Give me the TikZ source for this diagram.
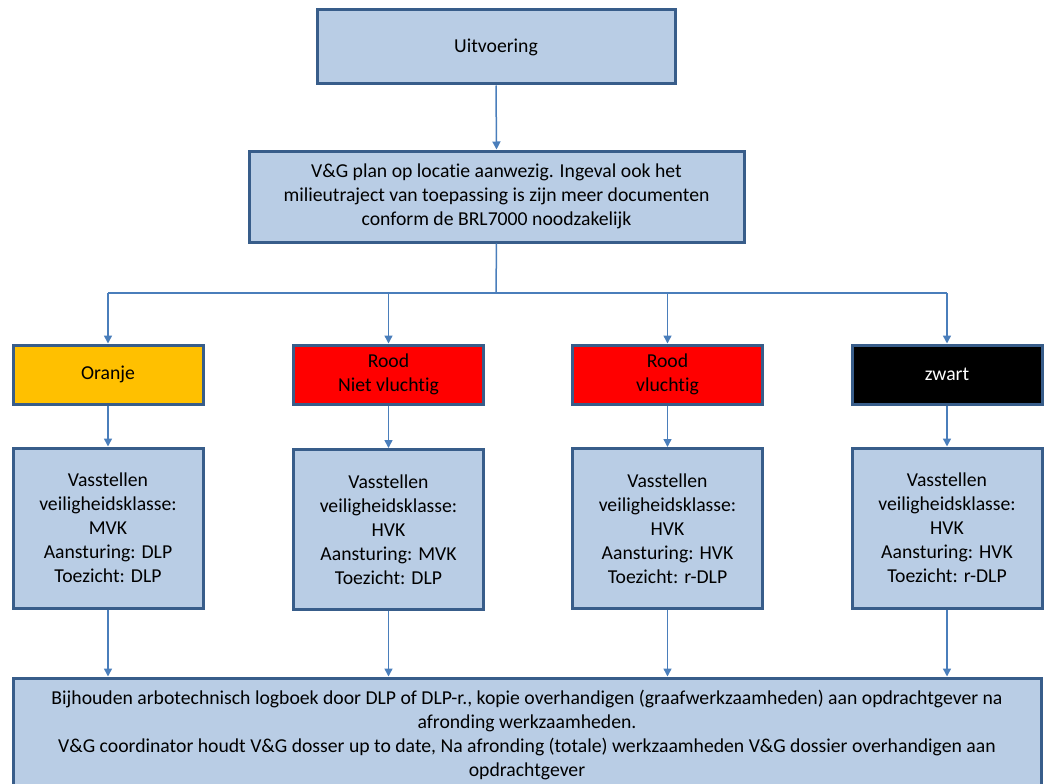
\documentclass[tikz,border=0pt]{standalone}
\usepackage{fontspec}
\setmainfont{Carlito}[Ligatures=NoCommon]
\usetikzlibrary{arrows.meta}
\definecolor{boxfill}{HTML}{B9CDE5}
\definecolor{boxline}{HTML}{385D8A}
\definecolor{conn}{HTML}{4A7EBB}
\definecolor{oranje}{HTML}{FFC000}
\definecolor{rood}{HTML}{FF0000}
\tikzset{
  box/.style={draw=boxline, line width=3pt, fill=boxfill, rectangle, inner sep=0pt,
    align=center, font=\fontsize{19.7}{24}\selectfont},
  conline/.style={draw=conn, line width=1.5pt},
  arr/.style={conline, -{Triangle[width=8pt,length=8pt]}}
}
\begin{document}
\begin{tikzpicture}[x=1pt,y=-1pt]
\useasboundingbox (0,0) rectangle (1045,784);
\clip (0,0) rectangle (1045,784);
\node[box, minimum width=358pt, minimum height=74pt] (top) at (496,47) {Uitvoering};
\node[box, minimum width=495pt, minimum height=91pt] (plan) at (496.5,196.5)
  {V\&G plan op locatie aanwezig. Ingeval ook het\\milieutraject van toepassing is zijn meer documenten\\conform de BRL7000 noodzakelijk};
\node[box, fill=oranje, minimum width=190pt, minimum height=59pt] (c1) at (108,374.5) {Oranje};
\node[box, fill=rood, minimum width=190pt, minimum height=59pt] (c2) at (388.5,374.5) {Rood\\Niet vluchtig};
\node[box, fill=rood, minimum width=190pt, minimum height=59pt] (c3) at (667.5,374.5) {Rood\\vluchtig};
\node[box, fill=black, text=white, minimum width=190pt, minimum height=59pt] (c4) at (947,374.5) {zwart};
\node[box, minimum width=190pt, minimum height=160pt] (d1) at (108,528)
  {Vasstellen\\veiligheidsklasse:\\MVK\\Aansturing: DLP\\Toezicht: DLP};
\node[box, minimum width=190pt, minimum height=160pt] (d2) at (388.5,529.5)
  {Vasstellen\\veiligheidsklasse:\\HVK\\Aansturing: MVK\\Toezicht: DLP};
\node[box, minimum width=190pt, minimum height=160pt] (d3) at (667.5,528.5)
  {Vasstellen\\veiligheidsklasse:\\HVK\\Aansturing: HVK\\Toezicht: r-DLP};
\node[box, minimum width=190pt, minimum height=160pt] (d4) at (947,528)
  {Vasstellen\\veiligheidsklasse:\\HVK\\Aansturing: HVK\\Toezicht: r-DLP};
\node[box, minimum width=1028pt, minimum height=114pt] (bot) at (527,735)
  {Bijhouden arbotechnisch logboek door DLP of DLP-r., kopie overhandigen (graafwerkzaamheden) aan opdrachtgever na\\afronding werkzaamheden.\\V\&G coordinator houdt V\&G dosser up to date, Na afronding (totale) werkzaamheden V\&G dossier overhandigen aan\\opdrachtgever};
\coordinate (bus) at (496,293);
\draw[arr] (top.south) -- (plan.north);
\draw[conline] (plan.south) -- (bus);
\draw[conline] (bus -| c1.north) -- (bus -| c4.north);
\foreach \c in {c1,c2,c3,c4} {
  \draw[arr] (bus -| \c.north) -- (\c.north);
}
\draw[arr] (c1.south) -- (d1.north);
\draw[arr] (c2.south) -- (d2.north);
\draw[arr] (c3.south) -- (d3.north);
\draw[arr] (c4.south) -- (d4.north);
\foreach \d in {d1,d2,d3,d4} {
  \draw[arr] (\d.south) -- (\d.south |- bot.north);
}
\end{tikzpicture}
\end{document}
